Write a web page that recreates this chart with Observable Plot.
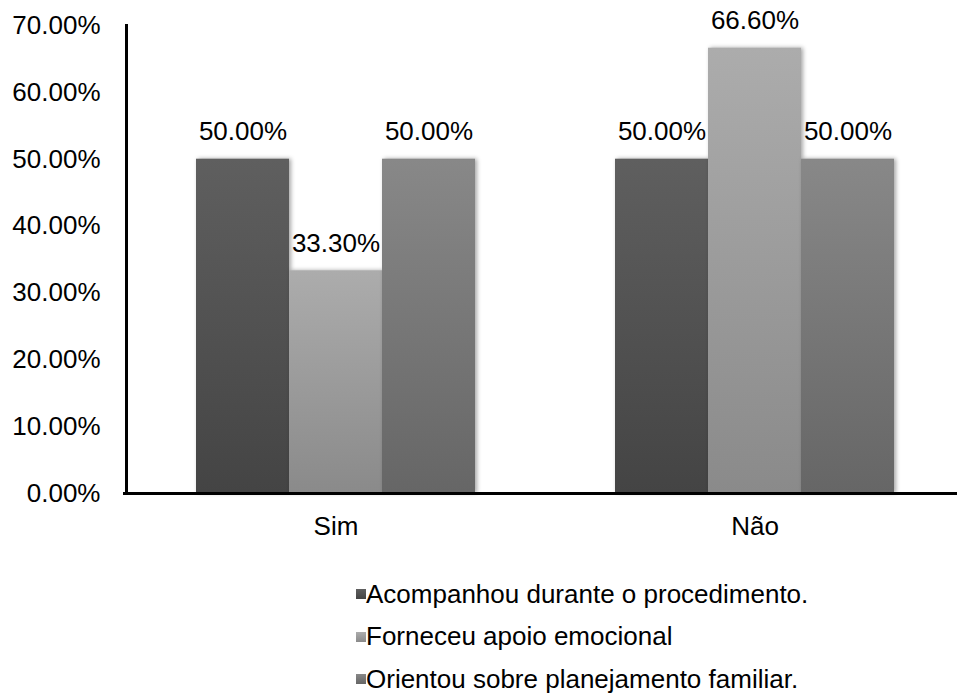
<!DOCTYPE html>
<html>
<head>
<meta charset="utf-8">
<script src="https://cdn.jsdelivr.net/npm/d3@7"></script>
<script src="https://cdn.jsdelivr.net/npm/@observablehq/plot@0.6"></script>
<style>
  html, body { margin: 0; padding: 0; background: #fff; }
  body { width: 957px; height: 696px; overflow: hidden; font-family: "Liberation Sans", Arial, sans-serif; }
  #chart { position: relative; width: 957px; height: 696px; }
  .bars rect { filter: drop-shadow(2px 0px 2px rgba(0,0,0,0.35)); }
  #legend { position: absolute; left: 356px; top: 573px; }
  .row { display: flex; align-items: center; height: 42.5px; font-size: 26px; color: #000; white-space: nowrap; }
  .sw { width: 10px; height: 10px; margin-right: 0px; }
</style>
</head>
<body>
<div id="chart"></div>
<script>
const categories = ["Sim", "Não"];
const series = ["Acompanhou durante o procedimento.", "Forneceu apoio emocional", "Orientou sobre planejamento familiar."];
const simValues = [50.0, 33.3, 50.0];
const naoValues = [50.0, 66.6, 50.0];
const yTicks = [0, 10, 20, 30, 40, 50, 60, 70];
const gradTop = ["#5f5f5f", "#acacac", "#888888"];
const gradBottom = ["#444444", "#8a8a8a", "#666666"];
const gradIds = ["g0", "g1", "g2"];

const valuesByCategory = [simValues, naoValues];
const data = categories.flatMap((c, i) =>
  series.map((s, j) => ({category: c, series: s, value: valuesByCategory[i][j]}))
);
const pct = v => v.toFixed(2) + "%";

const plot = Plot.plot({
  width: 957,
  height: 560,
  marginLeft: 126,
  marginRight: 0,
  marginTop: 25,
  marginBottom: 67,
  style: {fontFamily: "'Liberation Sans', Arial, sans-serif", fontSize: "26px", color: "#000", background: "transparent", overflow: "visible"},
  fx: {domain: categories, range: [125.5, 963.5], padding: 0, label: null},
  x: {domain: series, paddingInner: 0, paddingOuter: 0.745, axis: null},
  y: {domain: [0, 70], label: null},
  color: {domain: series, range: gradIds.map(id => `url(#${id})`)},
  marks: [
    Plot.barY(data, {fx: "category", x: "series", y: "value", fill: "series", className: "bars"}),
    Plot.text(data, {fx: "category", x: "series", y: "value", text: d => pct(d.value), dy: -19, lineAnchor: "bottom", fontSize: 26, fill: "#000"}),
    Plot.axisY({ticks: yTicks, tickFormat: pct, tickSize: 0, tickPadding: 26, label: null, fontSize: 26, fill: "#000"}),
    Plot.axisFx({anchor: "bottom", tickSize: 0, tickPadding: 23, label: null, fontSize: 26, fill: "#000"}),
    Plot.ruleY([0], {stroke: "#000", strokeWidth: 3, insetLeft: -3}),
    Plot.frame({anchor: "left", facetAnchor: "left", stroke: "#000", strokeWidth: 3})
  ]
});

// gradient definitions for the bar fills
const svg = d3.select(plot);
const defs = svg.insert("defs", ":first-child");
gradIds.forEach((id, i) => {
  const g = defs.append("linearGradient").attr("id", id).attr("x1", 0).attr("y1", 0).attr("x2", 0).attr("y2", 1);
  g.append("stop").attr("offset", "0%").attr("stop-color", gradTop[i]);
  g.append("stop").attr("offset", "100%").attr("stop-color", gradBottom[i]);
});

const chart = document.getElementById("chart");
chart.appendChild(plot);

const legend = document.createElement("div");
legend.id = "legend";
series.forEach((s, i) => {
  const row = document.createElement("div");
  row.className = "row";
  const sw = document.createElement("span");
  sw.className = "sw";
  sw.style.background = `linear-gradient(to bottom, ${gradTop[i]}, ${gradBottom[i]})`;
  const t = document.createElement("span");
  t.textContent = s;
  row.appendChild(sw);
  row.appendChild(t);
  legend.appendChild(row);
});
chart.appendChild(legend);
</script>
</body>
</html>
